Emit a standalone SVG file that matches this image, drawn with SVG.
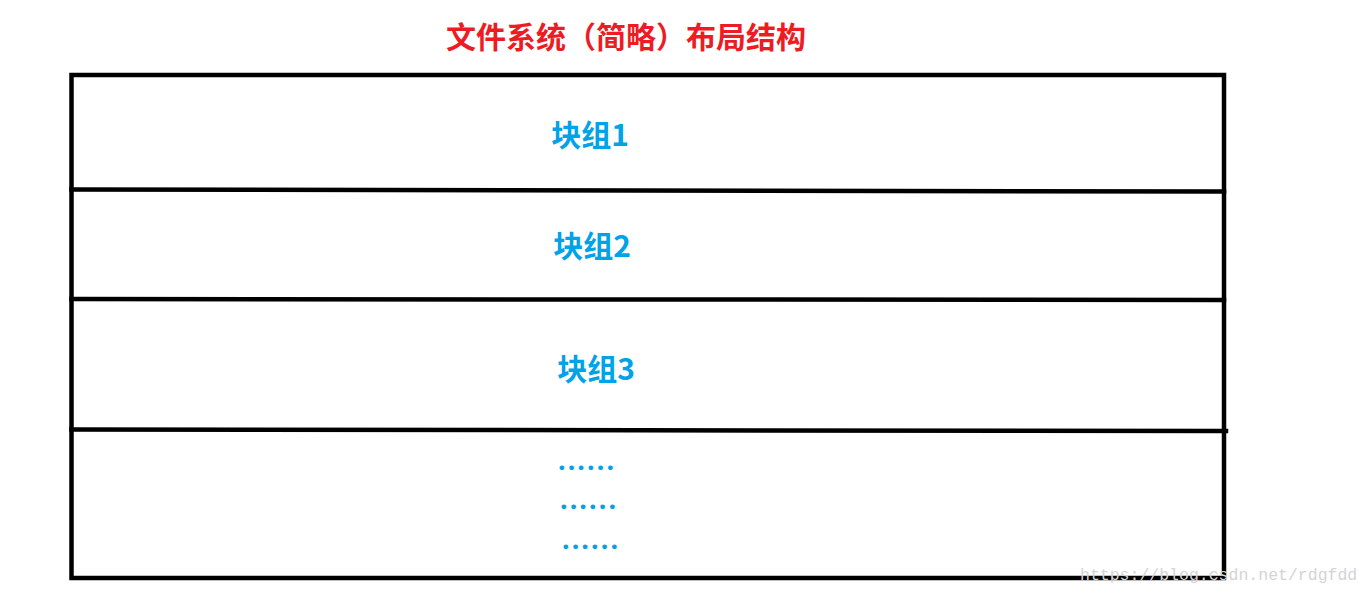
<svg xmlns="http://www.w3.org/2000/svg" width="1370" height="593" viewBox="0 0 1370 593">
<style>
.ln{stroke:#000;stroke-width:4.5;fill:none;stroke-linecap:square}
.lbl{font-family:"Microsoft YaHei","Noto Sans CJK SC",sans-serif;font-weight:bold;font-size:30px;fill:#00a2e8;text-anchor:middle}
.dots{font-family:"Noto Sans","Noto Sans CJK SC",sans-serif;font-weight:bold;font-size:27px;fill:#00a2e8;letter-spacing:2.1px}
.title{font-family:"Microsoft YaHei","Noto Sans CJK SC",sans-serif;font-weight:bold;font-size:30px;fill:#ed1c24;text-anchor:middle}
.wm{font-family:"Liberation Mono","Noto Sans CJK SC",monospace;font-size:16.5px;fill:#d4d4d4}
</style>
<rect width="1370" height="593" fill="#fff"/>
<g id="title"><text class="title" x="626" y="48">文件系统（简略）布局结构</text></g>
<g id="frame">
<rect class="ln" x="71.5" y="75" width="1152.5" height="503"/>
</g>
<g id="connectors">
<line class="ln" x1="71.5" y1="189.5" x2="1224" y2="191.5"/>
<line class="ln" x1="71.5" y1="299" x2="1224" y2="300"/>
<line class="ln" x1="71.5" y1="429.5" x2="1226" y2="431"/>
</g>
<g id="block1"><text class="lbl" x="590" y="146">块组1</text></g>
<g id="block2"><text class="lbl" x="592" y="257">块组2</text></g>
<g id="block3"><text class="lbl" x="596" y="380">块组3</text></g>
<g id="more">
<text class="dots" x="558" y="470">......</text>
<text class="dots" x="560" y="509">......</text>
<text class="dots" x="562" y="549">......</text>
</g>
<text class="wm" x="1080" y="580">https://blog.csdn.net/rdgfdd</text>
</svg>
